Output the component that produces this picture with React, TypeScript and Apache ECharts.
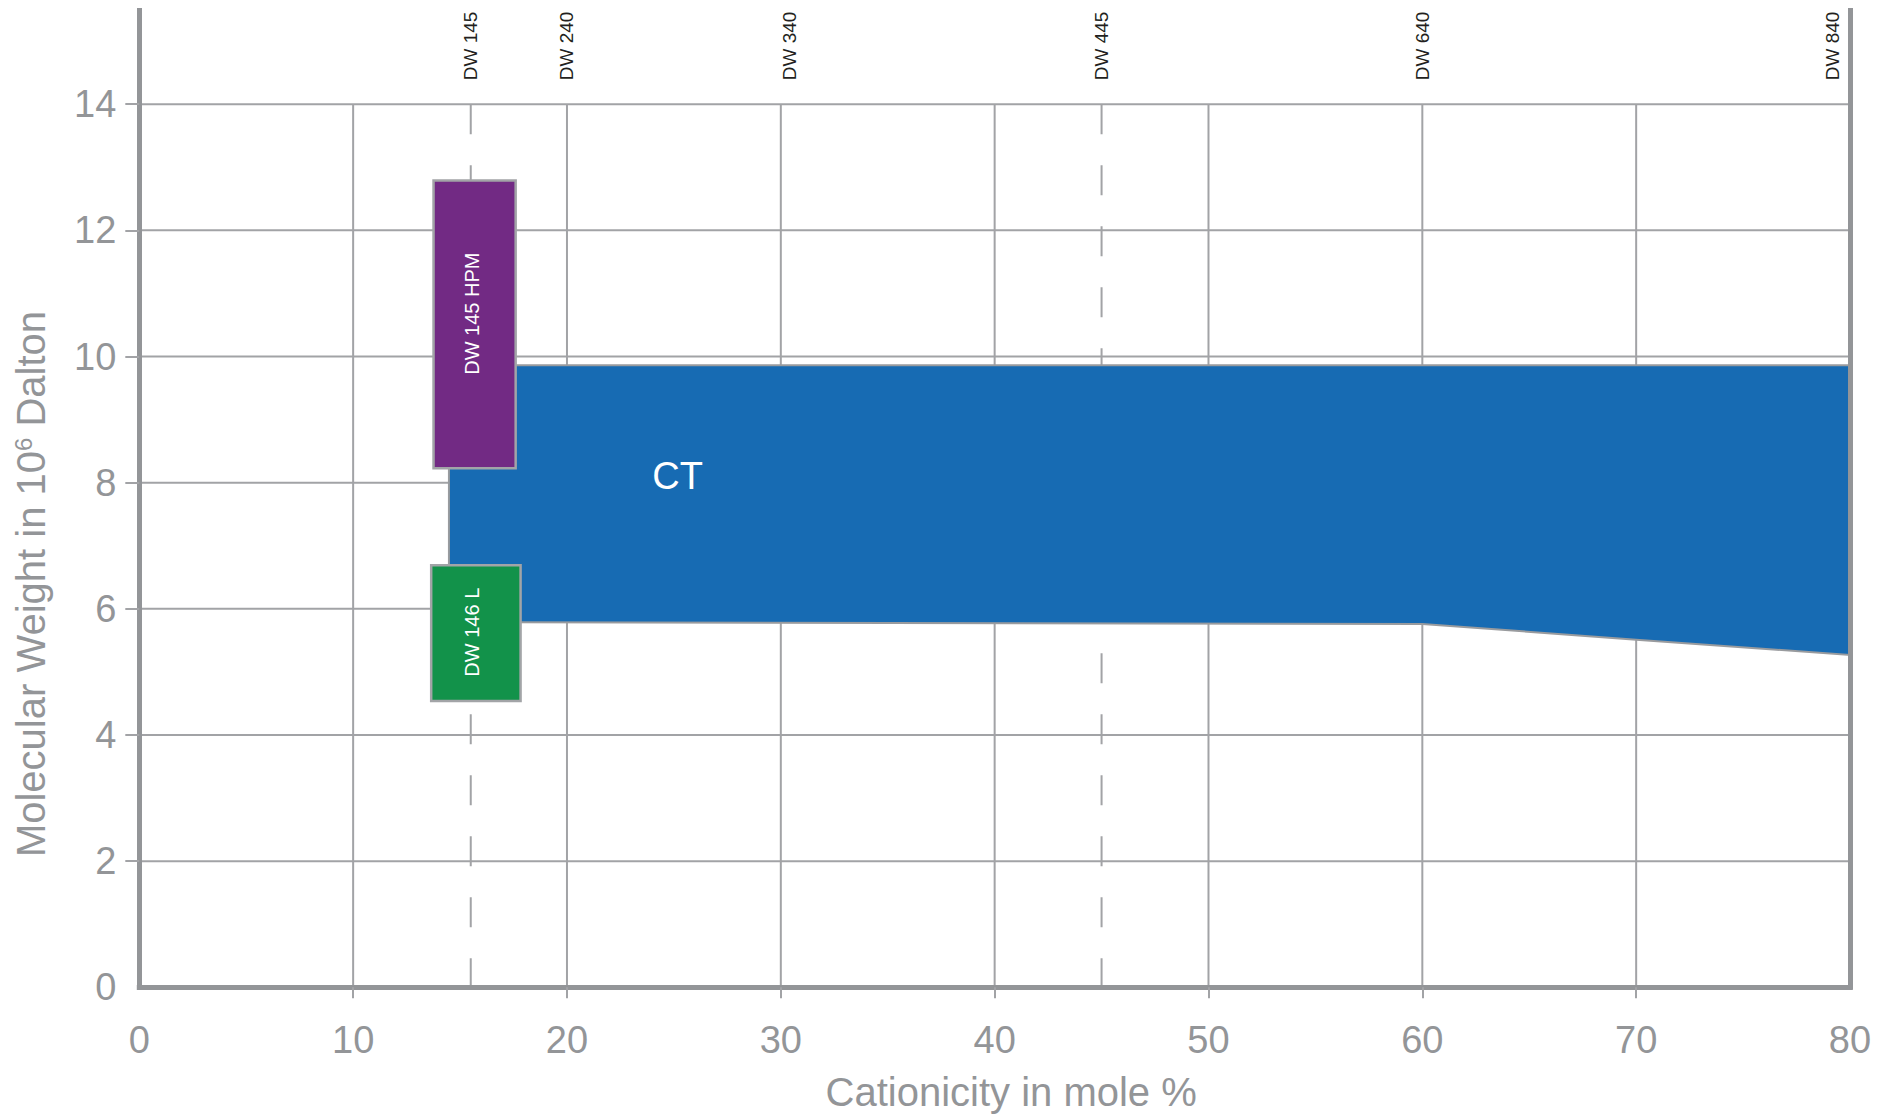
import React, { useEffect, useRef } from "react";
import * as echarts from "echarts";

// ---- data ----
const xLabelValues = [0, 10, 20, 30, 40, 50, 60, 70, 80];
const yLabelValues = [0, 2, 4, 6, 8, 10, 12, 14];
const xGridValues = [10, 20, 30, 40, 50, 60, 70];
const yGridValues = [2, 4, 6, 8, 10, 12, 14];
const dashedX = [15.5, 45];

const topLabels = ["DW 145", "DW 240", "DW 340", "DW 445", "DW 640", "DW 840"];
const topLabelX = [15.5, 20, 30.4, 45, 60, 79.2];

// CT range (blue area)
const ctTopX = [14.48, 80];
const ctTopY = [9.86, 9.86];
const ctBottomX = [80, 70, 60, 14.48];
const ctBottomY = [5.27, 5.51, 5.76, 5.79];
const ctLabel = "CT";
const ctLabelPos = [25.17, 8.11];

// products (boxes)
const boxNames = ["DW 145 HPM", "DW 146 L"];
const boxX0 = [13.76, 13.65];
const boxX1 = [17.6, 17.83];
const boxY0 = [8.23, 4.54];
const boxY1 = [12.79, 6.69];
const boxLabelX = [15.55, 15.55];
const boxLabelY = [10.68, 5.63];
const boxColors = ["#722a84", "#12924a"];

const FONT = '"Liberation Sans", Arial, Helvetica, sans-serif';
const TEXT = "#939598";
const AXIS = "#939598";
const GRID = "#a2a3a6";

export default function App() {
  const ref = useRef<HTMLDivElement>(null);

  useEffect(() => {
    if (!ref.current) return;
    const chart = echarts.init(ref.current, null, { renderer: "svg" });

    const option: any = {
      animation: false,
      backgroundColor: "#ffffff",
      grid: {
        left: 139.3,
        right: 40,
        top: 1.6,
        bottom: 127.7,
        containLabel: false,
        outerBoundsMode: "none",
      },
      xAxis: {
        type: "value",
        min: 0,
        max: 80,
        interval: 10,
        z: 10,
        axisLine: { show: true, onZero: false, lineStyle: { color: AXIS, width: 5, cap: "square" } },
        axisTick: { show: true, length: 11, customValues: xGridValues, lineStyle: { color: GRID, width: 2 } },
        axisLabel: {
          customValues: xLabelValues,
          color: TEXT,
          fontSize: 38,
          fontFamily: FONT,
          margin: 34,
        },
        splitLine: { show: false },
        name: "Cationicity in mole %",
        nameLocation: "middle",
        nameGap: 85,
        nameTextStyle: { color: TEXT, fontSize: 40, fontFamily: FONT, padding: [0, 0, 0, 33] },
      },
      yAxis: [
        {
          type: "value",
          min: 0,
          max: 15.5,
          interval: 2,
          z: 10,
          axisLine: { show: true, onZero: false, lineStyle: { color: AXIS, width: 5, cap: "square" } },
          axisTick: { show: true, length: 14, customValues: yGridValues, lineStyle: { color: GRID, width: 2 } },
          axisLabel: {
            customValues: yLabelValues,
            color: TEXT,
            fontSize: 38,
            fontFamily: FONT,
            margin: 23,
            formatter: (v: number) => (v % 2 === 0 ? String(v) : ""),
          },
          splitLine: { show: false },
        },
        {
          type: "value",
          position: "right",
          min: 0,
          max: 15.5,
          z: 10,
          axisLine: { show: true, onZero: false, lineStyle: { color: AXIS, width: 5, cap: "square" } },
          axisTick: { show: false },
          axisLabel: { show: false },
          splitLine: { show: false },
        },
      ],
      graphic: [
        {
          type: "text",
          x: 31,
          y: 576,
          rotation: Math.PI / 2,
          silent: true,
          style: {
            text: "Molecular Weight in 10{sup|6} Dalton",
            fill: TEXT,
            fontSize: 40,
            fontFamily: FONT,
            align: "center",
            verticalAlign: "middle",
            rich: {
              sup: { fontSize: 24, fill: TEXT, fontFamily: FONT, verticalAlign: "top" },
            },
          },
        },
      ],
      series: [
        // horizontal grid lines
        {
          type: "custom",
          z: 1,
          silent: true,
          data: yGridValues.map((v) => [0, v]),
          renderItem: (_p: any, api: any) => {
            const v = api.value(1);
            const a = api.coord([0, v]);
            const b = api.coord([80, v]);
            return {
              type: "line",
              shape: { x1: a[0], y1: a[1], x2: b[0], y2: b[1] },
              style: { stroke: GRID, lineWidth: 2 },
            };
          },
        },
        // vertical grid lines
        {
          type: "custom",
          z: 1,
          silent: true,
          data: xGridValues.map((v) => [v, 0]),
          renderItem: (_p: any, api: any) => {
            const v = api.value(0);
            const a = api.coord([v, 0]);
            const b = api.coord([v, 14]);
            return {
              type: "line",
              shape: { x1: a[0], y1: a[1], x2: b[0], y2: b[1] },
              style: { stroke: GRID, lineWidth: 2 },
            };
          },
        },
        // dashed product lines
        {
          type: "custom",
          z: 1,
          silent: true,
          data: dashedX.map((v) => [v, 0]),
          renderItem: (_p: any, api: any) => {
            const v = api.value(0);
            const a = api.coord([v, 14]);
            const b = api.coord([v, 0]);
            return {
              type: "line",
              shape: { x1: a[0], y1: a[1], x2: b[0], y2: b[1] },
              style: { stroke: GRID, lineWidth: 2, lineDash: [30, 31] },
            };
          },
        },
        // CT area
        {
          type: "custom",
          z: 2,
          silent: true,
          data: [[ctLabelPos[0], ctLabelPos[1]]],
          renderItem: (_p: any, api: any) => {
            const pts: number[][] = [];
            ctTopX.forEach((x, i) => pts.push(api.coord([x, ctTopY[i]])));
            ctBottomX.forEach((x, i) => pts.push(api.coord([x, ctBottomY[i]])));
            const lp = api.coord([api.value(0), api.value(1)]);
            return {
              type: "group",
              children: [
                {
                  type: "polygon",
                  shape: { points: pts },
                  style: { fill: "#176bb3", stroke: "#999b9e", lineWidth: 2 },
                },
                {
                  type: "text",
                  x: lp[0],
                  y: lp[1],
                  style: {
                    text: ctLabel,
                    fill: "#ffffff",
                    fontSize: 38,
                    fontFamily: FONT,
                    align: "center",
                    verticalAlign: "middle",
                  },
                },
              ],
            };
          },
        },
        // product boxes
        {
          type: "custom",
          z: 3,
          silent: true,
          data: boxNames.map((_n, i) => [boxX0[i], boxY0[i], boxX1[i], boxY1[i], boxLabelX[i], boxLabelY[i]]),
          renderItem: (p: any, api: any) => {
            const i = p.dataIndex;
            const tl = api.coord([api.value(0), api.value(3)]);
            const br = api.coord([api.value(2), api.value(1)]);
            const lp = api.coord([api.value(4), api.value(5)]);
            return {
              type: "group",
              children: [
                {
                  type: "rect",
                  shape: { x: tl[0], y: tl[1], width: br[0] - tl[0], height: br[1] - tl[1] },
                  style: { fill: boxColors[i], stroke: "#a2a4a7", lineWidth: 2.5 },
                },
                {
                  type: "text",
                  x: lp[0],
                  y: lp[1],
                  rotation: Math.PI / 2,
                  style: {
                    text: boxNames[i],
                    fill: "#ffffff",
                    fontSize: 20,
                    fontFamily: FONT,
                    align: "center",
                    verticalAlign: "middle",
                  },
                },
              ],
            };
          },
        },
        // top product labels
        {
          type: "custom",
          z: 3,
          silent: true,
          data: topLabelX.map((x) => [x, 14]),
          renderItem: (p: any, api: any) => {
            const pt = api.coord([api.value(0), api.value(1)]);
            return {
              type: "text",
              x: pt[0],
              y: pt[1] - 24,
              rotation: Math.PI / 2,
              style: {
                text: topLabels[p.dataIndex],
                fill: "#231f20",
                fontSize: 19,
                fontFamily: FONT,
                align: "left",
                verticalAlign: "middle",
              },
            };
          },
        },
      ],
    };

    chart.setOption(option);
    return () => chart.dispose();
  }, []);

  return (
    <div
      ref={ref}
      style={{ position: "absolute", left: 0, top: 8, width: 1890, height: 1107, background: "#fff" }}
    />
  );
}
